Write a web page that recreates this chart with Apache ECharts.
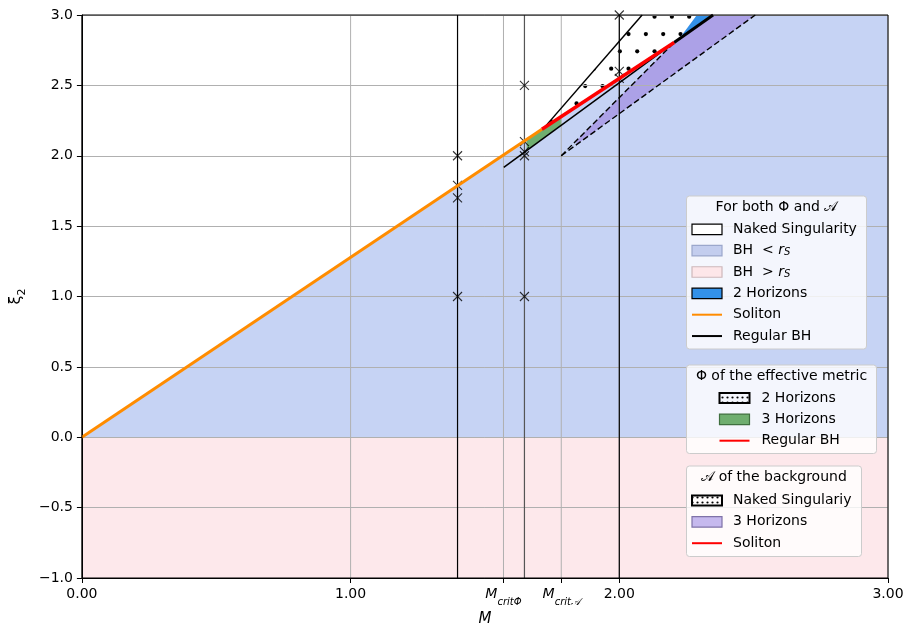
<!DOCTYPE html>
<html><head><meta charset="utf-8">
<script src="https://cdn.jsdelivr.net/npm/echarts@6/dist/echarts.min.js"></script>
<style>html,body{margin:0;padding:0;background:#fff}#c{width:915px;height:636px}</style>
</head><body><div id="c"></div>
<script>
const FONT = 'DejaVu Sans';
// ---- axis ticks ----
const xTickValues = [0, 1, 1.569, 1.784, 2, 3];
const xTickLabels = ['0.00', '1.00', '{m|M}{s|critΦ}', '{m|M}{s|crit𝒜}', '2.00', '3.00'];
const yTickValues = [-1, -0.5, 0, 0.5, 1, 1.5, 2, 2.5, 3];
const yTickLabels = ['−1.0', '−0.5', '0.0', '0.5', '1.0', '1.5', '2.0', '2.5', '3.0'];

// ---- vertical guide lines ----
const vLineM = [1.398, 1.647, 2.0];
const vLineColor = ['#000', '#555', '#000'];

// ---- crosses ----
const crossM  = [1.398, 1.398, 1.398, 1.398, 1.647, 1.647, 1.647, 1.647, 1.647, 2.0, 2.0, 2.0];
const crossXi = [2.0,   1.79,  1.7,   1.0,   2.5,   2.1,   2.03,  2.0,   1.0,   3.0, 2.6, 2.55];

// ---- curves ----
const solitonM = [0, 1.712],     solitonXi = [0, 2.188];
const redM = [1.712, 2.204],     redXi = [2.188, 2.804];
const bhM = [1.57, 2.204],       bhXi = [1.918, 2.804];
const bhThickM = [2.204, 2.349], bhThickXi = [2.804, 3.0];
const steepM = [1.72, 2.085],    steepXi = [2.198, 3.0];
const dashUpM = [1.784, 2.204],  dashUpXi = [2.0, 2.804];
const dashLowM = [1.784, 2.506], dashLowXi = [2.0, 3.0];

// ---- regions ----
const blueM = [0, 3, 3, 0],  blueXi = [0, 0, 3, 3];
const pinkM = [0, 3, 3, 0],  pinkXi = [-1, -1, 0, 0];
const nakedM = [0, 1.712, 2.204, 2.222, 2.289, 0], nakedXi = [0, 2.188, 2.804, 2.828, 3.0, 3.0];
const dotsM = [1.712, 2.204, 2.222, 2.289, 2.085, 1.72], dotsXi = [2.188, 2.804, 2.828, 3.0, 3.0, 2.198];
const twoHorM = [2.222, 2.289, 2.349], twoHorXi = [2.828, 3.0, 3.0];
const purpleM = [1.84, 2.204, 2.349, 2.506, 1.84], purpleXi = [2.107, 2.804, 3.0, 3.0, 2.078];
const greenM = [1.655, 1.655, 1.712, 1.785, 1.785], greenXi = [2.037, 2.115, 2.188, 2.279, 2.218];

// ---- legend texts ----
const legend1Title = 'For both Φ and 𝒜';
const legend1Labels = ['Naked Singularity', '{t|BH  < }{i|r}{s|S}', '{t|BH  > }{i|r}{s|S}', '2 Horizons', 'Soliton', 'Regular BH'];
const legend2Title = 'Φ of the effective metric';
const legend2Labels = ['2 Horizons', '3 Horizons', 'Regular BH'];
const legend3Title = '𝒜 of the background';
const legend3Labels = ['Naked Singulariy', '3 Horizons', 'Soliton'];

// colours
const C_BLUE = '#c6d3f4', C_PINK = '#fde8eb', C_2H = '#3391e8', C_PURPLE = '#aca1e7',
      C_GREEN = '#6fae6f', C_ORANGE = '#ff8c00', C_RED = '#ff0000';

function dotPattern() {
  const W = 52, H = 104, c = document.createElement('canvas');
  c.width = W; c.height = H;
  const g = c.getContext('2d'); g.fillStyle = '#000';
  const sx = W / 3, sy = H / 6;
  for (let r = 0; r < 6; r++) {
    const y = (16.7 + r * sy) % H;
    const off = r % 2 === 0 ? 13.2 : 13.2 - sx / 2;
    for (let k = 0; k < 3; k++) {
      const x = (off + k * sx) % W;
      for (const dx of [-W, 0, W]) for (const dy of [-H, 0, H]) {
        g.beginPath(); g.arc(x + dx, y + dy, 2.1, 0, Math.PI * 2); g.fill();
      }
    }
  }
  return c;
}
function smallDotPattern() {
  const c = document.createElement('canvas'); c.width = 5; c.height = 5;
  const g = c.getContext('2d'); g.fillStyle = '#000';
  g.beginPath(); g.arc(2.5, 2.5, 1.1, 0, Math.PI * 2); g.fill();
  return c;
}
const DOTS = { image: dotPattern(), repeat: 'repeat' };
const SDOTS = { image: smallDotPattern(), repeat: 'repeat' };

function polygonSeries(name, Ms, Xis, style, z) {
  return {
    type: 'custom', name, z, silent: true,
    data: Ms.map((m, i) => [m, Xis[i]]),
    encode: { x: 0, y: 1 },
    renderItem: (params, api) => {
      if (params.dataIndex !== 0) return null;
      const pts = Ms.map((m, i) => api.coord([m, Xis[i]]));
      return { type: 'polygon', shape: { points: pts }, style };
    }
  };
}
function lineSeries(name, Ms, Xis, color, width, z, type) {
  return {
    type: 'line', name, z, silent: true, symbol: 'none', animation: false,
    data: Ms.map((m, i) => [m, Xis[i]]),
    lineStyle: { color, width, type: type || 'solid', cap: 'butt' }
  };
}

const series = [
  polygonSeries('pink', pinkM, pinkXi, { fill: C_PINK }, 1),
  polygonSeries('blue', blueM, blueXi, { fill: C_BLUE }, 1),
  polygonSeries('naked', nakedM, nakedXi, { fill: '#ffffff' }, 1),
  polygonSeries('dots', dotsM, dotsXi, { fill: DOTS }, 2),
  polygonSeries('purple', purpleM, purpleXi, { fill: C_PURPLE }, 2),
  polygonSeries('twoHor', twoHorM, twoHorXi, { fill: C_2H }, 2),
  polygonSeries('green', greenM, greenXi, { fill: C_GREEN }, 2),
  {
    type: 'custom', name: 'vgrid', z: 3, silent: true,
    data: xTickValues.map(v => [v]),
    encode: { x: 0 },
    renderItem: (params, api) => {
      const v = api.value(0);
      const a = api.coord([v, -1]), b = api.coord([v, 3]);
      return { type: 'line', shape: { x1: a[0], y1: a[1], x2: b[0], y2: b[1] },
               style: { stroke: '#b0b0b0', lineWidth: 1 } };
    }
  }
];
vLineM.forEach((m, i) => series.push(lineSeries('v' + i, [m, m], [-1, 3], vLineColor[i], 1.2, 5)));
series.push({
  type: 'scatter', name: 'crosses', z: 6, silent: true, animation: false,
  data: crossM.map((m, i) => [m, crossXi[i]]),
  symbol: 'path://M0,0L10,10M10,0L0,10', symbolSize: 9,
  itemStyle: { color: 'rgba(0,0,0,0)', borderColor: '#000', borderWidth: 1.1 }
});
series.push(lineSeries('dashUp', dashUpM, dashUpXi, '#000', 1.4, 7, [6, 3]));
series.push(lineSeries('dashLow', dashLowM, dashLowXi, '#000', 1.4, 7, [6, 3]));
series.push(lineSeries('steep', steepM, steepXi, '#000', 1.5, 7));
series.push(lineSeries('bh', bhM, bhXi, '#000', 1.5, 7));
series.push(lineSeries('bhThick', bhThickM, bhThickXi, '#000', 3, 8));
series.push(lineSeries('soliton', solitonM, solitonXi, C_ORANGE, 3, 8));
series.push(lineSeries('red', redM, redXi, C_RED, 3.5, 8));

// ---- legends as graphics ----
const TXT = { fontFamily: FONT, fontSize: 14, fill: '#000' };
const RICH = {
  t: { fontFamily: FONT, fontSize: 14 },
  i: { fontFamily: FONT, fontSize: 14, fontStyle: 'italic' },
  s: { fontFamily: FONT, fontSize: 10, fontStyle: 'italic', verticalAlign: 'bottom', lineHeight: 12 }
};
const ZL = 100;
function swatch(kind, x, y, opt) {
  if (kind === 'line') return { type: 'line', z: ZL + 1, shape: { x1: x, y1: y, x2: x + 30, y2: y }, style: { stroke: opt.color, lineWidth: 2 } };
  if (kind === 'hatch') return { type: 'rect', z: ZL + 1, shape: { x: x, y: y - 5, width: 30, height: 10 }, style: { fill: SDOTS, stroke: '#000', lineWidth: 2 } };
  return { type: 'rect', z: ZL + 1, shape: { x: x, y: y - 5.25, width: 30, height: 10.5 }, style: { fill: opt.fill, stroke: opt.stroke, lineWidth: 1.2 } };
}
function legend(box, title, labels, kinds, opts, swX, txX, y0, dy) {
  const els = [{ type: 'rect', z: ZL, shape: { x: box[0], y: box[1], width: box[2], height: box[3], r: 3 },
                 style: { fill: 'rgba(255,255,255,0.8)', stroke: '#cccccc', lineWidth: 1 } }];
  els.push({ type: 'text', z: ZL + 1, x: box[0] + box[2] / 2, y: box[1] + 11, style: Object.assign({ text: title, align: 'center', verticalAlign: 'middle' }, TXT) });
  labels.forEach((lb, i) => {
    const y = y0 + i * dy;
    els.push(swatch(kinds[i], swX, y, opts[i]));
    els.push({ type: 'text', z: ZL + 1, x: txX, y: y, style: Object.assign({ text: lb, verticalAlign: 'middle', rich: RICH }, TXT) });
  });
  return els;
}
const graphics = [].concat(
  legend([686.5, 196, 180, 153], legend1Title, legend1Labels,
    ['rect', 'rect', 'rect', 'rect', 'line', 'line'],
    [{ fill: '#fff', stroke: '#000' }, { fill: '#c3cdee', stroke: '#9ba7cc' }, { fill: '#fde6e9', stroke: '#cdb8bb' },
     { fill: C_2H, stroke: '#000' }, { color: C_ORANGE }, { color: '#000' }],
    692, 733, 229.3, 21.35),
  legend([686.5, 365, 190, 88.5], legend2Title, legend2Labels,
    ['hatch', 'rect', 'line'],
    [{}, { fill: C_GREEN, stroke: '#3f6f3f' }, { color: C_RED }],
    719.5, 761.5, 398, 21.35),
  legend([686.5, 466, 175, 90.5], legend3Title, legend3Labels,
    ['hatch', 'rect', 'line'],
    [{}, { fill: '#c6b9ee', stroke: '#7f72a8' }, { color: C_RED }],
    692, 733, 500.5, 21.35)
);

const chart = echarts.init(document.getElementById('c'), null, { renderer: 'canvas' });
chart.setOption({
  animation: false,
  backgroundColor: '#fff',
  grid: { left: 81, right: 27, top: 15, bottom: 58, show: true, borderColor: '#000', borderWidth: 1, backgroundColor: 'rgba(0,0,0,0)', z: 20 },
  xAxis: {
    type: 'value', min: 0, max: 3, z: 3,
    axisLine: { onZero: false, lineStyle: { color: '#000', width: 1 } },
    axisTick: { customValues: xTickValues, length: 5, lineStyle: { color: '#000' } },
    axisLabel: {
      customValues: xTickValues, margin: 9, color: '#000', fontFamily: FONT, fontSize: 14,
      formatter: (v) => {
        let best = 0;
        xTickValues.forEach((t, i) => { if (Math.abs(t - v) < Math.abs(xTickValues[best] - v)) best = i; });
        return xTickLabels[best];
      },
      rich: {
        m: { fontFamily: FONT, fontSize: 14, fontStyle: 'italic', color: '#000', lineHeight: 20, verticalAlign: 'top' },
        s: { fontFamily: FONT, fontSize: 10, fontStyle: 'italic', color: '#000', lineHeight: 12, verticalAlign: 'bottom' }
      }
    },
    splitLine: { show: false },
    name: 'M', nameLocation: 'middle', nameGap: 31,
    nameTextStyle: { fontFamily: FONT, fontSize: 15, fontStyle: 'italic', color: '#000' }
  },
  yAxis: {
    type: 'value', min: -1, max: 3, interval: 0.5, z: 3,
    axisLine: { show: true, onZero: false, lineStyle: { color: '#000', width: 1 } },
    axisTick: { show: true, length: 5, lineStyle: { color: '#000' } },
    axisLabel: {
      margin: 9, color: '#000', fontFamily: FONT, fontSize: 14,
      formatter: (v) => {
        let best = 0;
        yTickValues.forEach((t, i) => { if (Math.abs(t - v) < Math.abs(yTickValues[best] - v)) best = i; });
        return yTickLabels[best];
      }
    },
    splitLine: { show: true, lineStyle: { color: '#b0b0b0', width: 1 } },
    name: '{a|ξ}{b|2}', nameLocation: 'middle', nameGap: 35, nameRotate: 90,
    nameTextStyle: {
      rich: {
        a: { fontFamily: FONT, fontSize: 16, color: '#000', lineHeight: 20, verticalAlign: 'top' },
        b: { fontFamily: FONT, fontSize: 11, color: '#000', lineHeight: 12, verticalAlign: 'bottom' }
      }
    }
  },
  series,
  graphic: { elements: graphics }
});
</script></body></html>
